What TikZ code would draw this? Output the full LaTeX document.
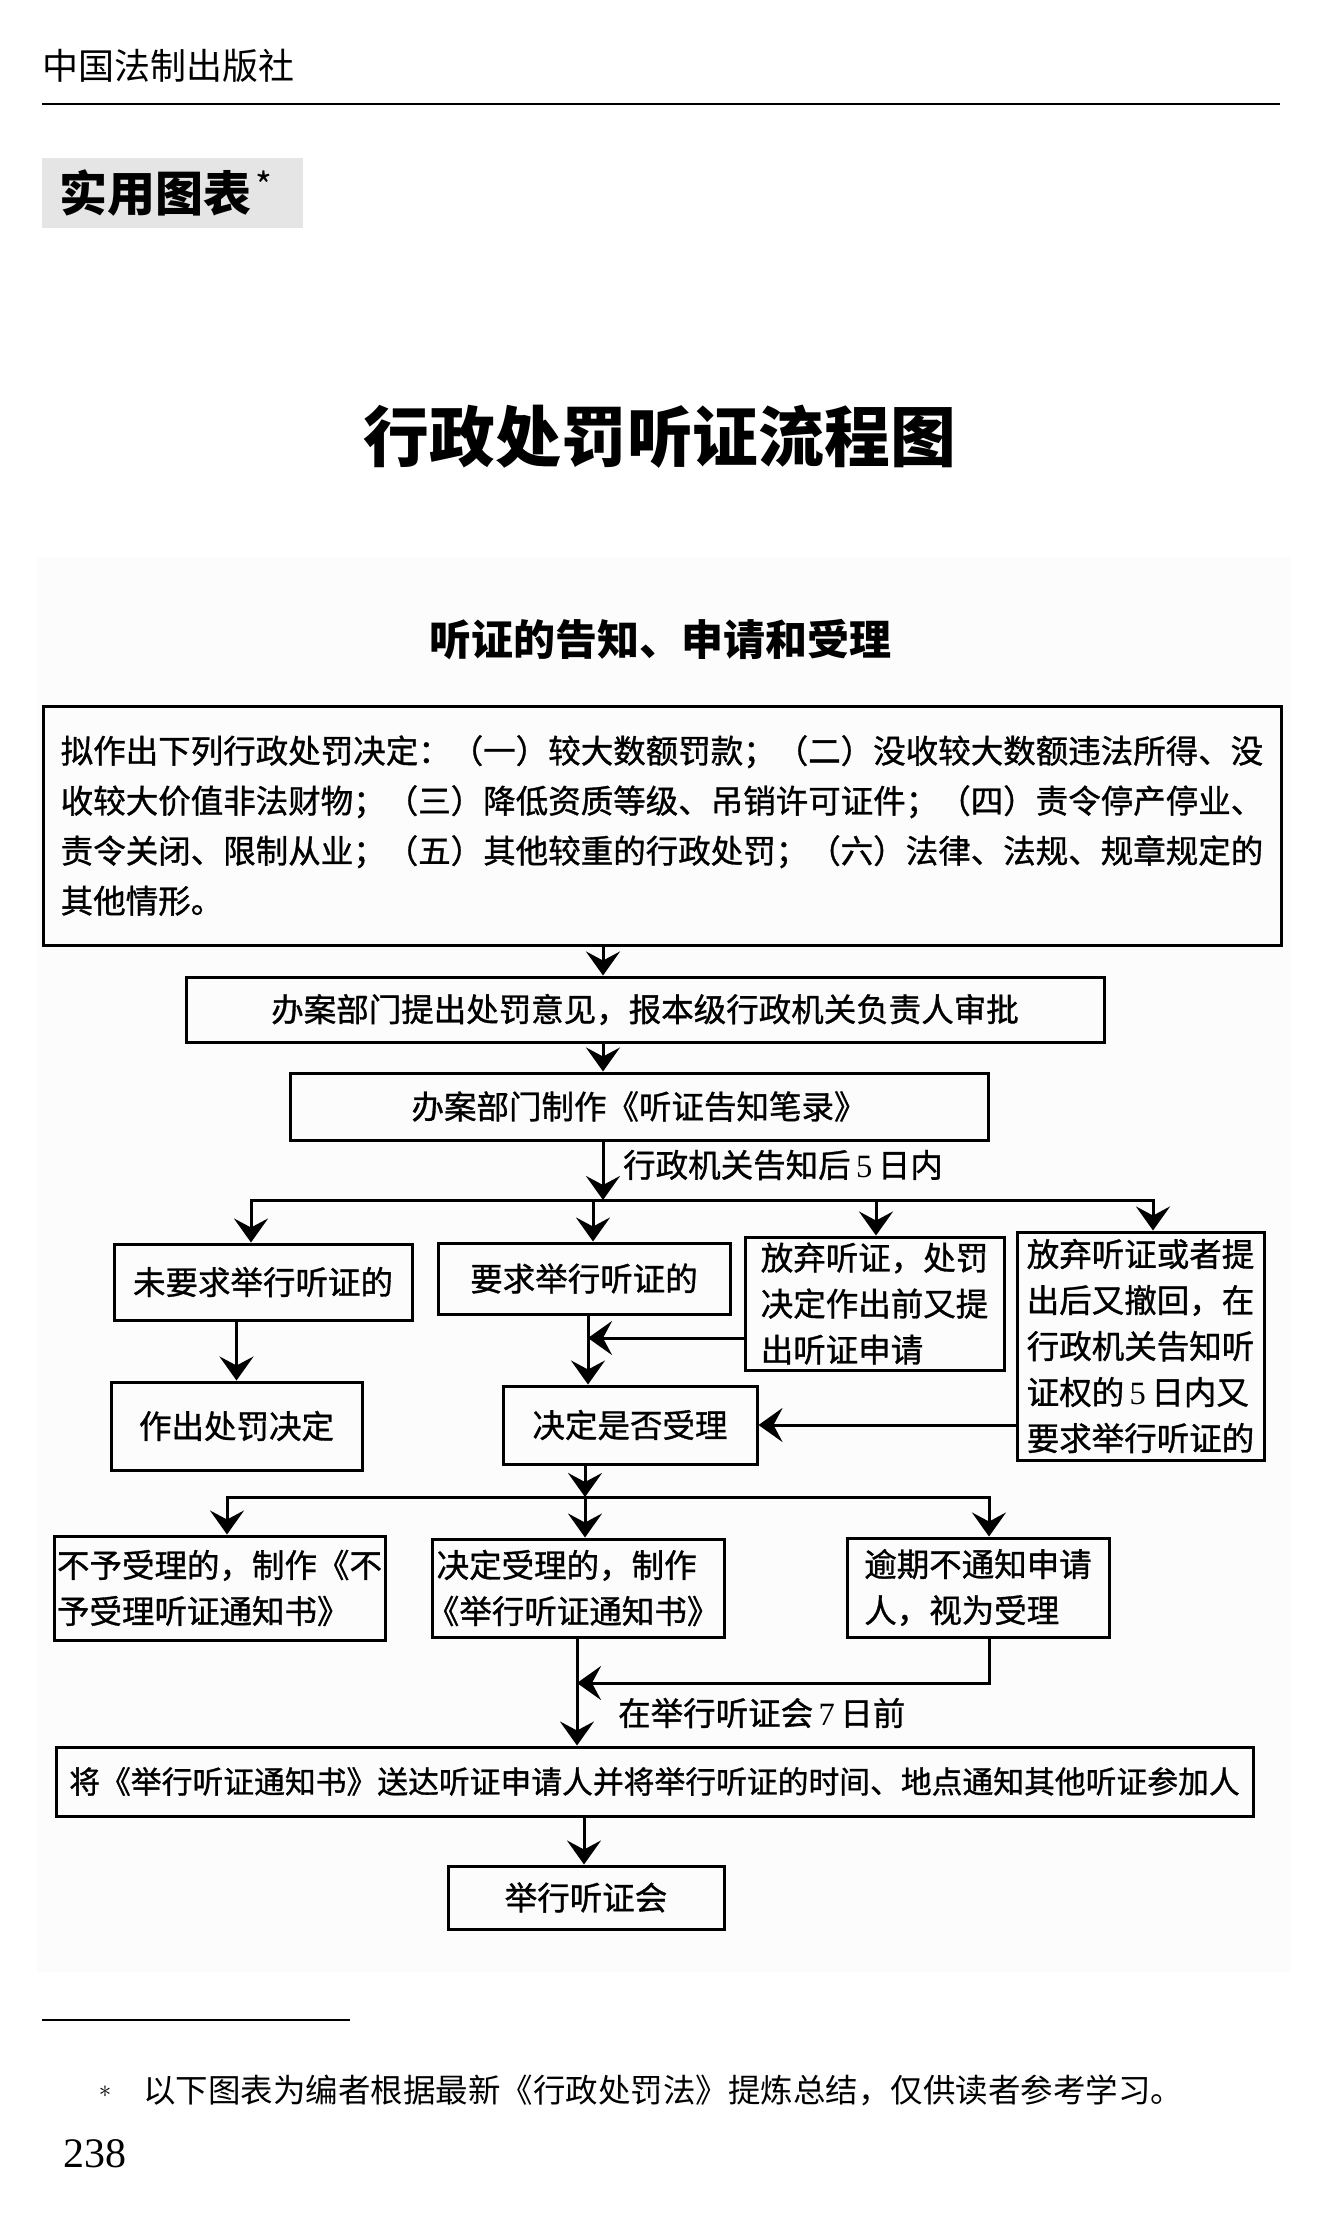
\documentclass[tikz,border=0pt]{standalone}
\usepackage{fontspec}
\setmainfont{Noto Sans CJK SC}
\newfontfamily\boxfont{Noto Sans CJK SC}[FakeBold=1]
\newfontfamily\numfont{Liberation Serif}
\usetikzlibrary{arrows.meta,calc,positioning}
\tikzset{box/.style={draw=black, line width=3pt, inner sep=0pt, align=left, font=\boxfont\fontsize{32.5}{46}\selectfont}}
\tikzset{con/.style={line width=3pt, line cap=rect}}
\tikzset{arr/.style={-{Stealth[length=24pt,width=34pt,inset=9pt]}}}
\tikzset{lbl/.style={inner sep=0pt, anchor=west, font=\boxfont\fontsize{32.5}{46}\selectfont}}

\begin{document}
\begin{tikzpicture}[x=1pt, y=-1pt]
    \useasboundingbox (0,0) rectangle (1322,2214);
    \fill[black!1] (37,557) rectangle (1290,1972);

    % page head
    \node[anchor=west, inner sep=0pt, font=\fontsize{36}{36}\selectfont] (pub) at (42,66) {中国法制出版社};
    \draw[line width=2pt] (42,104) -- (1280,104);
    \node[fill=black!10, anchor=north west, minimum height=70pt, inner xsep=17pt, text width=227pt, align=left,
        font=\bfseries\fontsize{48}{48}\selectfont] (tag) at (42,158) {实用图表\hspace{4pt}{\mdseries\fontsize{36}{36}\selectfont\raisebox{12pt}{*}}};

    \node[font=\bfseries\fontsize{65.8}{66}\selectfont] (ttl) at (660,437) {行政处罚听证流程图};
    \node[font=\bfseries\fontsize{42}{42}\selectfont] (sub) at (660,640) {听证的告知、申请和受理};

    % boxes
    \node[box, minimum width=1238pt, minimum height=239pt, font=\boxfont\fontsize{32.5}{50}\selectfont] (top) at (662,825.5)
        {拟作出下列行政处罚决定：（一）较大数额罚款；（二）没收较大数额违法所得、没\\
         收较大价值非法财物；（三）降低资质等级、吊销许可证件；（四）责令停产停业、\\
         责令关闭、限制从业；（五）其他较重的行政处罚；（六）法律、法规、规章规定的\\
         其他情形。};
    \node[box, minimum width=918pt, minimum height=65pt] (appr) at (645,1009.5) {办案部门提出处罚意见，报本级行政机关负责人审批};
    \node[box, minimum width=698pt, minimum height=67pt] (note) at (639,1106.5) {办案部门制作《听证告知笔录》};

    \node[box, minimum width=298pt, minimum height=76pt] (nreq) at (263,1282) {未要求举行听证的};
    \node[box, minimum width=292pt, minimum height=71pt] (req) at (584,1278.5) {要求举行听证的};
    \node[box, minimum width=259pt, minimum height=133pt] (wv) at (874.5,1303.5)
        {放弃听证，处罚\\决定作出前又提\\出听证申请};
    \node[box, minimum width=247pt, minimum height=228pt] (wvr) at (1140.5,1346)
        {放弃听证或者提\\出后又撤回，在\\行政机关告知听\\证权的\,{\numfont 5}\,日内又\\要求举行听证的};

    \node[box, minimum width=251pt, minimum height=88pt] (pen) at (236.5,1426) {作出处罚决定};
    \node[box, minimum width=254pt, minimum height=78pt] (dec) at (630,1425) {决定是否受理};

    \node[box, minimum width=331pt, minimum height=104pt] (rej) at (219.5,1588)
        {不予受理的，制作《不\\予受理听证通知书》};
    \node[box, minimum width=292pt, minimum height=98pt] (acc) at (578,1588)
        {决定受理的，制作\\\hspace*{-.3em}《举行听证通知书》};
    \node[box, minimum width=262pt, minimum height=99pt] (late) at (978,1587.5)
        {逾期不通知申请\\人，视为受理};

    \node[box, minimum width=1197pt, minimum height=69pt, font=\boxfont\fontsize{30.8}{46}\selectfont] (send) at (654.5,1781.5)
        {将《举行听证通知书》送达听证申请人并将举行听证的时间、地点通知其他听证参加人};
    \node[box, minimum width=276pt, minimum height=63pt] (hold) at (586,1897.5) {举行听证会};

    \node[lbl] (d5) at (623,1165) {行政机关告知后\,{\numfont 5}\,日内};
    \node[lbl] (d7) at (618,1713) {在举行听证会\,{\numfont 7}\,日前};

    % turning points
    \coordinate (s1) at (603,1200);
    \coordinate (ka) at (251,1200);
    \coordinate (kb) at (593,1200);
    \coordinate (kc) at (876,1200);
    \coordinate (kd) at (1153,1200);
    \coordinate (ke) at (588,1338);
    \coordinate (kf) at (585,1497);
    \coordinate (kg) at (227,1497);
    \coordinate (kh) at (989,1497);
    \coordinate (ki) at (577,1683);
    \coordinate (kj) at (584,1816);

    \draw[con]
    (top.south -| s1) edge[arr] (appr.north -| s1)
    (appr.south -| s1) edge[arr] (note.north -| s1)
    (note.south -| s1) edge[arr] (s1)
    (ka) -- (kd)
    (ka) edge[arr] (ka |- nreq.north)
    (kb) edge[arr] (kb |- req.north)
    (kc) edge[arr] (kc |- wv.north)
    (kd) edge[arr] (kd |- wvr.north)
    (pen.north |- nreq.south) edge[arr] (pen.north)
    (req.south -| ke) edge[arr] (dec.north -| ke)
    (wv.west |- ke) edge[arr] (ke)
    (wvr.west |- dec.east) edge[arr] (dec.east)
    (dec.south -| kf) edge[arr] (kf)
    (kg) -- (kh)
    (kg) edge[arr] (kg |- rej.north)
    (kf) edge[arr] (kf |- acc.north)
    (kh) edge[arr] (kh |- late.north)
    (late.south -| kh) -- (kh |- ki) edge[arr] (ki)
    (acc.south -| ki) edge[arr] (send.north -| ki)
    (send.south -| kj) edge[arr] (hold.north -| kj);

    % foot
    \draw[line width=1.5pt] (42,2020) -- (350,2020);
    \node[inner sep=0pt, font=\fontsize{30}{30}\selectfont] (star) at (105,2092) {$\ast$};
    \node[anchor=west, inner sep=0pt, font=\fontsize{32.5}{34}\selectfont] (fn) at (143,2090)
        {以下图表为编者根据最新《行政处罚法》提炼总结，仅供读者参考学习。};
    \node[anchor=west, inner sep=0pt, font=\numfont\fontsize{42}{42}\selectfont] (pg) at (63,2154) {238};
\end{tikzpicture}
\end{document}
